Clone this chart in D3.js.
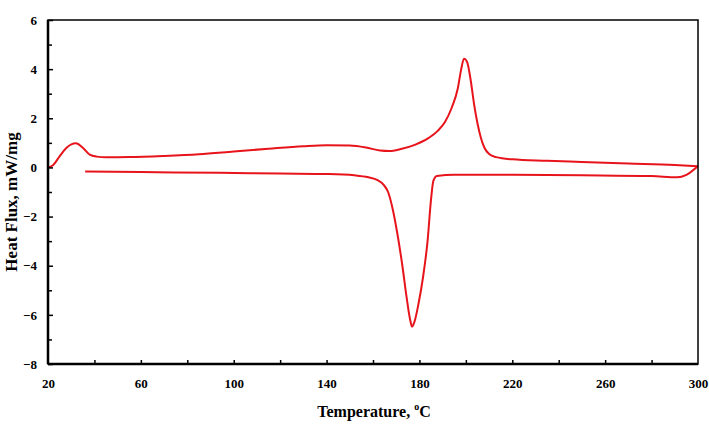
<!DOCTYPE html>
<html><head><meta charset="utf-8">
<script src="https://cdn.jsdelivr.net/npm/d3@7"></script>
<style>body{margin:0;background:#fff}svg{display:block}text{font-family:"Liberation Serif","Times New Roman",serif;font-weight:bold}</style>
</head><body><svg id="c" width="709" height="426"></svg>
<script>
const heatT = [20, 22, 25, 28, 32, 35, 38, 41, 45, 55, 70, 85, 100, 115, 130, 140, 150, 157, 163, 167, 172, 178, 184, 188, 191, 194, 196.5, 198, 199.2, 200.5, 202, 203.5, 205, 206.5, 208, 210, 213, 220, 235, 250, 270, 290, 300];
const heatV = [0, 0.08, 0.45, 0.8, 0.98, 0.8, 0.52, 0.44, 0.41, 0.42, 0.47, 0.54, 0.65, 0.76, 0.86, 0.9, 0.89, 0.81, 0.69, 0.67, 0.75, 0.92, 1.2, 1.5, 1.85, 2.45, 3.2, 4.0, 4.42, 4.3, 3.6, 2.6, 1.8, 1.2, 0.8, 0.55, 0.42, 0.33, 0.27, 0.22, 0.16, 0.1, 0.05];
const coolT = [36, 60, 94, 120, 141, 152, 158, 162, 164.5, 166.5, 168.5, 170.5, 172.5, 174.5, 176, 176.8, 177.8, 179.5, 181.5, 183.5, 185, 186, 187.5, 195, 220, 250, 280, 291, 295, 300];
const coolV = [-0.17, -0.19, -0.22, -0.25, -0.27, -0.32, -0.4, -0.52, -0.7, -1.0, -1.7, -2.7, -3.9, -5.3, -6.2, -6.48, -6.3, -5.6, -4.5, -3.0, -1.3, -0.55, -0.35, -0.3, -0.3, -0.32, -0.35, -0.4, -0.3, 0.06];
const xTickLabels = [20, 60, 100, 140, 180, 220, 260, 300];
const yTickLabels = [-8, -6, -4, -2, 0, 2, 4, 6];

const svg = d3.select("#c");
const L = 48, R = 698, T = 20, B = 364;
const x = d3.scaleLinear().domain([20, 300]).range([L, R]);
const y = d3.scaleLinear().domain([-8, 6]).range([B, T]);

const line = d3.line().x(d => x(d[0])).y(d => y(d[1])).curve(d3.curveMonotoneX);
const heat = heatT.map((t, i) => [t, heatV[i]]);
const cool = coolT.map((t, i) => [t, coolV[i]]);
const col = "#e8141c";
svg.append("path").attr("d", line(heat)).attr("fill", "none").attr("stroke", col).attr("stroke-width", 2);
svg.append("path").attr("d", line(cool)).attr("fill", "none").attr("stroke", col).attr("stroke-width", 2);

// frame
svg.append("rect").attr("x", L).attr("y", T).attr("width", R - L).attr("height", B - T)
  .attr("fill", "none").attr("stroke", "#000").attr("stroke-width", 1.5);
svg.append("line").attr("x1", L).attr("x2", L).attr("y1", T).attr("y2", B).attr("stroke", "#000").attr("stroke-width", 2.5);
svg.append("line").attr("x1", L).attr("x2", R).attr("y1", B).attr("y2", B).attr("stroke", "#000").attr("stroke-width", 2.5);

// y axis ticks (inward)
const yAxis = d3.axisRight(y).tickValues(d3.range(-8, 7, 1)).tickSize(5).tickFormat("");
const gy = svg.append("g").attr("transform", `translate(${L},0)`).call(yAxis);
gy.select(".domain").remove();
gy.selectAll(".tick line").attr("stroke-width", 1.5).attr("x2", d => d % 2 === 0 ? 5 : 4);
const gyl = svg.append("g").attr("transform", `translate(${L},0)`).call(d3.axisLeft(y).tickValues(yTickLabels).tickSize(0).tickPadding(11));
gyl.select(".domain").remove();
gyl.selectAll("text").attr("font-size", 13).attr("fill", "#000").style("font-family", '"Liberation Serif",serif').style("font-weight", "bold");

// x axis ticks (inward)
const gx = svg.append("g").attr("transform", `translate(0,${B})`).call(d3.axisTop(x).tickValues(d3.range(40, 300, 20)).tickSize(4).tickFormat(""));
gx.select(".domain").remove();
gx.selectAll(".tick line").attr("stroke-width", 1.5);
const gxl = svg.append("g").attr("transform", `translate(0,${B})`).call(d3.axisBottom(x).tickValues(xTickLabels).tickSize(0).tickPadding(15));
gxl.select(".domain").remove();
gxl.selectAll("text").attr("font-size", 13).attr("fill", "#000").style("font-family", '"Liberation Serif",serif').style("font-weight", "bold");

// axis titles
const xt = svg.append("text").attr("x", 374).attr("y", 417).attr("text-anchor", "middle").attr("font-size", 16);
xt.append("tspan").text("Temperature, ");
xt.append("tspan").text("o").attr("font-size", 10).attr("dy", -7);
xt.append("tspan").text("C").attr("dy", 7);
svg.append("text").attr("transform", "translate(17,202) rotate(-90)").attr("text-anchor", "middle").attr("font-size", 17).text("Heat Flux, mW/mg");
</script></body></html>
